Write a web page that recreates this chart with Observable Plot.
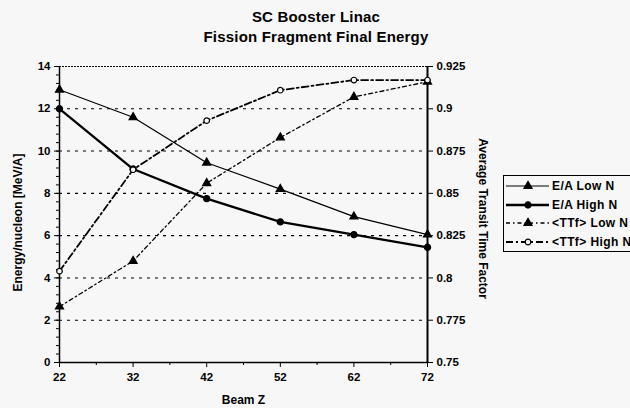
<!DOCTYPE html>
<html><head><meta charset="utf-8">
<script src="https://cdn.jsdelivr.net/npm/d3@7"></script>
<script src="https://cdn.jsdelivr.net/npm/@observablehq/plot@0.6"></script>
<style>
body{margin:0;background:#f7f7f7;font-family:"Liberation Sans",Arial,sans-serif;color:#000;}
#wrap{position:relative;width:630px;height:408px;overflow:hidden;}
#title{position:absolute;left:0;width:632px;top:7px;text-align:center;font-weight:bold;font-size:15px;line-height:20px;letter-spacing:0.2px;}
#legend{position:absolute;left:503px;top:175px;width:135px;height:77px;border:1px solid #000;box-sizing:border-box;font-size:12px;font-weight:bold;padding-top:1px;letter-spacing:0.4px;}
#legend .row{display:flex;align-items:center;height:18.5px;}
#legend svg{display:block;margin-left:1px;margin-right:2px;}
#chart{position:absolute;left:0;top:0;}
</style>
</head><body>
<div id="wrap">
  <div id="chart"></div>
  <div id="title">SC Booster Linac<br>Fission Fragment Final Energy</div>
  <div id="legend"></div>
</div>
<script>
// ---- data ----
const beamZ = [22, 32, 42, 52, 62, 72];
const eaLowN = [12.9, 11.6, 9.45, 8.2, 6.9, 6.05];
const eaHighN = [12.0, 9.15, 7.75, 6.65, 6.05, 5.45];
const ttfLowN = [0.783, 0.810, 0.856, 0.883, 0.907, 0.916];
const ttfHighN = [0.804, 0.864, 0.893, 0.911, 0.917, 0.917];
const leftTicks = [0, 2, 4, 6, 8, 10, 12, 14];
const rightTicks = [0.75, 0.775, 0.8, 0.825, 0.85, 0.875, 0.9, 0.925];
const seriesNames = ["E/A Low N", "E/A High N", "<TTf> Low N", "<TTf> High N"];
const titleLeft = "Energy/nucleon [MeV/A]";
const titleRight = "Average Transit Time Factor";
const titleX = "Beam Z";

// right axis (TTF) mapped onto left scale domain [0,14]
const rMin = 0.75, rMax = 0.925, lMax = 14;
const toLeft = v => (v - rMin) / (rMax - rMin) * lMax;
const fromLeft = d => rMin + d / lMax * (rMax - rMin);

const styles = [
  {values: eaLowN, map: v => v, width: 1.2, dash: null, symbol: "triangle", fill: "#000", r: 3.0},
  {values: eaHighN, map: v => v, width: 2.3, dash: null, symbol: "circle", fill: "#000", r: 3.1},
  {values: ttfLowN, map: toLeft, width: 1.3, dash: "4,3,1.5,3", symbol: "triangle", fill: "#000", r: 3.0},
  {values: ttfHighN, map: toLeft, width: 1.8, dash: "7,3,2,3", symbol: "circle", fill: "#f7f7f7", r: 2.8}
];
const seriesData = styles.map((s, k) => beamZ.map((z, i) => ({z, v: s.map(s.values[i]), name: seriesNames[k]})));

const leftMinor = d3.range(0, 14.001, 0.4).map(d => +d.toFixed(2));
const xMinor = beamZ.slice(0, -1).map(d => d + 5);

const axisTitleStyle = {fontSize: 12, fontWeight: "bold", textAnchor: "middle", style: "letter-spacing:0.8px"};

const marks = [
  Plot.ruleY(leftTicks.filter(d => d > 0 && d < 14), {stroke: "#000", strokeWidth: 1.1, strokeDasharray: "3,5"}),
  Plot.ruleY([14], {stroke: "#000", strokeWidth: 1.2, strokeDasharray: "2,1"}),
  Plot.ruleY([0], {stroke: "#000", strokeWidth: 1.5}),
  Plot.ruleX([22], {stroke: "#000", strokeWidth: 1.5}),
  Plot.ruleX([72], {stroke: "#000", strokeWidth: 2}),
  Plot.axisY({ticks: leftMinor, tickSize: 3, tickFormat: () => "", label: null}),
  Plot.axisY({ticks: leftTicks, tickSize: 5, tickPadding: 4, tickFormat: d => String(d), label: null}),
  Plot.axisY({anchor: "right", ticks: rightTicks.map(toLeft), tickSize: 5, tickPadding: 4,
              tickFormat: d => String(+fromLeft(d).toFixed(3)), label: null}),
  Plot.axisX({ticks: beamZ, tickSize: 5, tickPadding: 5, tickFormat: d => String(d), label: null}),
  Plot.axisX({ticks: xMinor, tickSize: 3, tickFormat: () => "", label: null}),
];
styles.forEach((s, k) => {
  marks.push(Plot.line(seriesData[k], {x: "z", y: "v", stroke: "#000", strokeWidth: s.width, strokeDasharray: s.dash}));
});
styles.forEach((s, k) => {
  marks.push(Plot.dot(seriesData[k], {x: "z", y: "v", symbol: () => s.symbol, r: s.r, fill: s.fill, stroke: "#000", strokeWidth: 1.2}));
});
marks.push(
  Plot.text([titleLeft], {text: d => d, frameAnchor: "left", dx: -41, dy: 8, rotate: -90, ...axisTitleStyle}),
  Plot.text([titleRight], {text: d => d, frameAnchor: "right", dx: 55, dy: 4, rotate: 90, ...axisTitleStyle}),
  Plot.text([titleX], {text: d => d, frameAnchor: "bottom", dy: 41, ...axisTitleStyle})
);

const chart = Plot.plot({
  width: 630, height: 408,
  marginTop: 66, marginBottom: 46, marginLeft: 59, marginRight: 203,
  style: {background: "transparent", fontFamily: "'Liberation Sans', Arial, sans-serif", fontSize: "11.5px", fontWeight: "bold", color: "#000"},
  x: {domain: [22, 72], label: null},
  y: {domain: [0, 14], label: null},
  symbol: {type: "identity"},
  marks
});
document.getElementById("chart").appendChild(chart);

// legend
const legend = d3.select("#legend");
styles.forEach((s, k) => {
  const row = legend.append("div").attr("class", "row");
  const svg = row.append("svg").attr("width", 45).attr("height", 14);
  svg.append("line").attr("x1", 1).attr("x2", 44).attr("y1", 7).attr("y2", 7)
    .attr("stroke", "#000").attr("stroke-width", s.width).attr("stroke-dasharray", s.dash);
  const sym = s.symbol === "triangle" ? d3.symbolTriangle : d3.symbolCircle;
  svg.append("path").attr("d", d3.symbol(sym, Math.PI * s.r * s.r)())
    .attr("transform", "translate(23,7)").attr("fill", s.fill).attr("stroke", "#000").attr("stroke-width", 1.2);
  row.append("span").text(seriesNames[k]);
});
</script>
</body></html>
